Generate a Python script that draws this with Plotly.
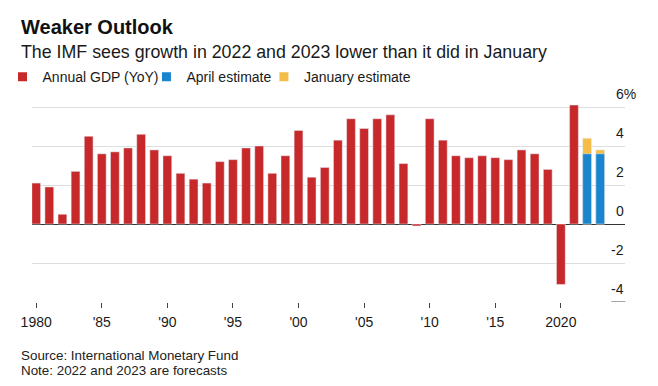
import plotly.graph_objects as go

# ---- data ----
years = list(range(1980, 2022))
gdp = [2.1, 1.9, 0.5, 2.7, 4.5, 3.6, 3.7, 3.9, 4.6, 3.8,
       3.5, 2.6, 2.3, 2.1, 3.2, 3.3, 3.9, 4.0, 2.6, 3.5,
       4.8, 2.4, 2.9, 4.3, 5.4, 4.9, 5.4, 5.6, 3.1, -0.1,
       5.4, 4.3, 3.5, 3.4, 3.5, 3.4, 3.3, 3.8, 3.6, 2.8,
       -3.1, 6.1]
forecast_years = [2022, 2023]
april_est = [3.6, 3.6]
january_est = [4.4, 3.8]

x_tickvals = [1980, 1985, 1990, 1995, 2000, 2005, 2010, 2015, 2020]
x_ticktext = ["1980", "'85", "'90", "'95", "'00", "'05", "'10", "'15", "2020"]
y_tickvals = [-4, -2, 0, 2, 4, 6]
y_ticktext = ["-4", "-2", "0", "2", "4", "6%"]
legend_names = ["Annual GDP (YoY)", "April estimate", "January estimate"]

RED = "#c7282a"
BLUE = "#1a84cf"
YELLOW = "#f3bd48"
FONT = "Liberation Sans, Arial, Helvetica, sans-serif"

# page has an 8px body margin: figure is sized to fit inside it
OFF = 8
W, H = 658 - 2 * OFF, 386 - 2 * OFF
PX0, PX1 = 31.5 - OFF, 624.7 - OFF      # plot area (figure px)
PY0, PY1 = 100 - OFF, 302.3 - OFF
L, R, T, B = PX0, W - PX1, PY0, H - PY1
pw, ph = PX1 - PX0, PY1 - PY0


def px_x(x):
    return (x - OFF - PX0) / pw


def px_y(y):
    return (PY1 - (y - OFF)) / ph


fig = go.Figure()
fig.add_trace(go.Bar(x=years, y=gdp, marker_color=RED, showlegend=False,
                     name=legend_names[0]))
fig.add_trace(go.Bar(x=forecast_years, y=january_est, marker_color=YELLOW,
                     showlegend=False, name=legend_names[2]))
fig.add_trace(go.Bar(x=forecast_years, y=april_est, marker_color=BLUE,
                     showlegend=False, name=legend_names[1]))

# legend entries (one legend per entry to reproduce the spacing)
legend_ids = ["legend", "legend2", "legend3"]
legend_x = [2.0, 146.0, 263.5]
for nm, col, lid in zip(legend_names, [RED, BLUE, YELLOW], legend_ids):
    fig.add_trace(go.Scatter(x=[None], y=[None], mode="markers", name=nm, legend=lid,
                             marker=dict(symbol="square", size=9, color=col)))

texts = [
    ("<b>Weaker Outlook</b>", 18, 27.3, 20, "#111"),
    ("The IMF sees growth in 2022 and 2023 lower than it did in January", 18, 51.7, 17.8, "#1a1a1a"),
    ("Source: International Monetary Fund", 18, 356.2, 13.4, "#222"),
    ("Note: 2022 and 2023 are forecasts", 18, 370.5, 13.4, "#222"),
]
ann = []
for t, x, y, s, c in texts:
    ann.append(dict(text=t, xref="paper", yref="paper", x=px_x(x), y=px_y(y),
                    xanchor="left", yanchor="middle", showarrow=False,
                    font=dict(family=FONT, size=s, color=c)))
for v, t in zip(y_tickvals, y_ticktext):
    ann.append(dict(text=t, xref="paper", yref="y", x=px_x(626), y=v,
                    xanchor="right", yanchor="middle", yshift=13,
                    xshift=12 if t.endswith("%") else 0,
                    showarrow=False, font=dict(family=FONT, size=14, color="#1a1a1a")))

layout_legends = {}
for lid, lx in zip(legend_ids, legend_x):
    layout_legends[lid] = dict(orientation="h", x=(lx - OFF - PX0) / pw, y=px_y(77.2),
                               xanchor="left", yanchor="middle",
                               font=dict(family=FONT, size=14, color="#1a1a1a"),
                               itemwidth=30, bgcolor="rgba(0,0,0,0)")

fig.update_layout(
    width=W, height=H,
    margin=dict(l=L, r=R, t=T, b=B, pad=0, autoexpand=False),
    paper_bgcolor="white", plot_bgcolor="white",
    barmode="overlay", bargap=0.33,
    font=dict(family=FONT, size=14, color="#1a1a1a"),
    annotations=ann,
    shapes=[dict(type="line", xref="paper", yref="y", x0=px_x(611), x1=px_x(625),
                 y0=-4, y1=-4, line=dict(color="#888", width=1.5))],
    **layout_legends,
)
fig.update_xaxes(range=[1979.68, 2024.89], tickvals=x_tickvals, ticktext=x_ticktext,
                 ticks="outside", ticklen=5, tickcolor="#444", tickwidth=1,
                 ticklabelstandoff=2,
                 showgrid=False, zeroline=False, showline=False,
                 tickfont=dict(family=FONT, size=14, color="#1a1a1a"))
fig.update_yaxes(range=[-4, 6.36], tickvals=[-2, 2, 4, 6], showticklabels=False,
                 showgrid=True, gridcolor="#dedede", gridwidth=1,
                 zeroline=True, zerolinecolor="#333", zerolinewidth=1)

fig.write_html("out.html")
